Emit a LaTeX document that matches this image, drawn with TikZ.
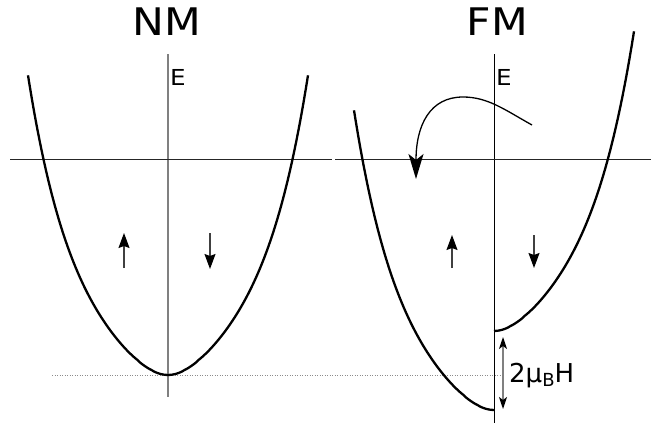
\documentclass[tikz,border=0pt]{standalone}
\usepackage{fontspec}
\setmainfont{DejaVu Sans}
\usetikzlibrary{arrows.meta}
\begin{document}
\begin{tikzpicture}[x=1pt,y=-1pt,
  declare function={bandf(\t)=111.2*(pow((\t/100)*(\t/100)+0.04,0.75)-0.0894)+22.8*pow(abs(\t)/100+0.00001,5);},
  band/.style={line width=2.3pt, line join=round, line cap=butt},
  axisgray/.style={draw=black!50, line width=1.1pt},
  axisblack/.style={draw=black, line width=0.9pt},
  hline/.style={draw=black!85, line width=0.9pt},
  spin/.style={draw=black!75, line width=1.3pt, -{Stealth[length=15pt,width=11pt,inset=2pt,black]}},
  gaparrow/.style={draw=black!50, line width=1.3pt, {Stealth[length=12pt,width=8pt,inset=3pt,black]}-{Stealth[length=12pt,width=8pt,inset=3pt,black]}},
  bendarrow/.style={draw=black, line width=1.3pt, -{Stealth[length=25pt,width=15pt,inset=6pt]}},
  dotline/.style={draw=black!45, line width=1pt, dash pattern=on 1pt off 1.5pt},
  title/.style={font=\fontsize{38}{38}\selectfont, inner sep=0pt, anchor=base, xscale=1.12},
  elabel/.style={font=\fontsize{22}{22}\selectfont, inner sep=0pt, anchor=base west, xscale=1.12},
  gaplabel/.style={font=\fontsize{26}{26}\selectfont, inner sep=0pt, anchor=base west},
]
\useasboundingbox (0,0) rectangle (651,423);

% dotted reference line
\coordinate (d1) at (52,375);
\coordinate (d2) at (500,375);
\draw[dotline] (d1) -- (d2);

% axes
\coordinate (ax1t) at (168,54);
\coordinate (ax1b) at (168,397);
\coordinate (ax2t) at (494,54);
\coordinate (ax2b) at (494,423);
\draw[axisgray] (ax1t) -- (ax1b);
\draw[axisblack] (ax2t) -- (ax2b);
\coordinate (h1l) at (10,159);
\coordinate (h1r) at (332,159);
\coordinate (h2l) at (335,159);
\coordinate (h2r) at (651,159);
\draw[hline] (h1l) -- (h1r);
\draw[hline] (h2l) -- (h2r);

% NM band
\draw[band] plot[domain=-140:140, samples=141] ({168+\x},{375-bandf(\x)});
% FM spin-up band (left half)
\draw[band] plot[domain=-140:0, samples=71] ({494+\x},{410-bandf(\x)});
% FM spin-down band (right half)
\draw[band] plot[domain=0:140, samples=71] ({494+\x},{331-bandf(\x)});

% spin arrows
\coordinate (u1a) at (124,268); \coordinate (u1b) at (124,233);
\coordinate (d1a) at (210,233); \coordinate (d1b) at (210,269);
\coordinate (u2a) at (452,268); \coordinate (u2b) at (452,235);
\coordinate (d2a) at (534,235); \coordinate (d2b) at (534,268);
\draw[spin] (u1a) -- (u1b);
\draw[spin] (d1a) -- (d1b);
\draw[spin] (u2a) -- (u2b);
\draw[spin] (d2a) -- (d2b);

% curved arrow
\coordinate (c0) at (532,125);
\coordinate (c1) at (463,97);
\coordinate (c2) at (416,179);
\draw[bendarrow] (c0) .. controls (505,110) and (488,97) .. (c1) .. controls (430,97) and (416,125) .. (c2);

% splitting arrow
\coordinate (g1) at (503,337);
\coordinate (g2) at (503,409);
\draw[gaparrow] (g1) -- (g2);

% labels
\node[title] (nm) at (167,35) {NM};
\node[title] (fm) at (497.5,35) {FM};
\node[elabel] (e1) at (170,85) {E};
\node[elabel] (e2) at (496,85) {E};
\node[gaplabel] (gap) at (509,382) {2µ\raisebox{-4pt}{\fontsize{18}{18}\selectfont B}H};
\end{tikzpicture}
\end{document}
